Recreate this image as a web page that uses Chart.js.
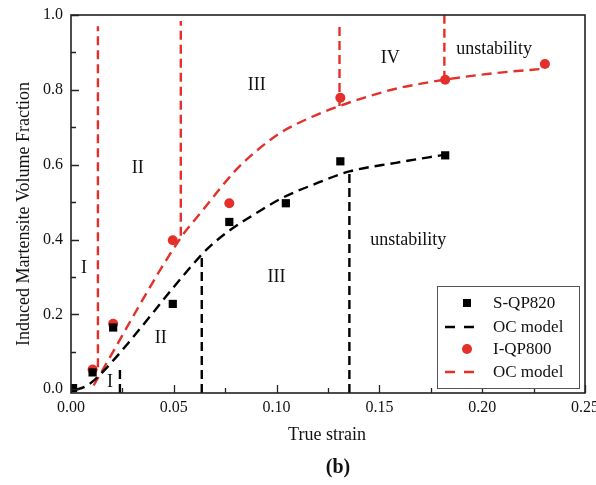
<!DOCTYPE html>
<html><head><meta charset="utf-8">
<script src="https://cdn.jsdelivr.net/npm/chart.js@4/dist/chart.umd.min.js"></script>
<style>html,body{margin:0;padding:0;background:#fff;}</style>
</head><body>
<canvas id="c" width="596" height="485"></canvas>
<script>
// ---- data ----
const sqpX = [0.001, 0.0105, 0.0205, 0.0495, 0.077, 0.1045, 0.131, 0.182];
const sqpY = [0.003, 0.045, 0.165, 0.228, 0.447, 0.497, 0.609, 0.625];
const iqpX = [0.0105, 0.0205, 0.0495, 0.077, 0.131, 0.182, 0.2305];
const iqpY = [0.053, 0.175, 0.398, 0.497, 0.779, 0.827, 0.869];
const blackModelX = [0.002, 0.006, 0.0097, 0.014, 0.0636, 0.068, 0.077, 0.092, 0.103, 0.1175, 0.1354, 0.158, 0.182];
const blackModelY = [-0.002, 0.005, 0.017, 0.038, 0.36, 0.384, 0.424, 0.477, 0.512, 0.546, 0.582, 0.605, 0.627];
const redModelX = [0.011, 0.0534, 0.0636, 0.0723, 0.0806, 0.09, 0.1015, 0.116, 0.1306, 0.145, 0.158, 0.1816, 0.2068, 0.229];
const redModelY = [0.01, 0.405, 0.475, 0.535, 0.588, 0.636, 0.684, 0.725, 0.757, 0.783, 0.803, 0.827, 0.845, 0.856];
const redBoundX = [0.0131, 0.0534, 0.1306, 0.1816];
const redBoundLow = [0.059, 0.41, 0.757, 0.827];
const redBoundHigh = [0.97, 0.984, 0.976, 1.0];
const blackBoundX = [0.0238, 0.0636, 0.1354];
const blackBoundLow = [-0.01, -0.01, -0.01];
const blackBoundHigh = [0.065, 0.36, 0.58];
const regionText = ['I', 'II', 'III', 'IV', 'unstability', 'I', 'II', 'III', 'unstability'];
const regionX = [0.0063, 0.0325, 0.0903, 0.1553, 0.2058, 0.019, 0.0437, 0.100, 0.164];
const regionY = [0.323, 0.59, 0.811, 0.885, 0.909, 0.019, 0.136, 0.30, 0.397];
const xTicks = [0, 0.05, 0.10, 0.15, 0.20, 0.25];
const yTicks = [0, 0.2, 0.4, 0.6, 0.8, 1.0];
const xMinor = [0.025, 0.075, 0.125, 0.175, 0.225];
const yMinor = [0.1, 0.3, 0.5, 0.7, 0.9];
const legendNames = ['S-QP820', 'OC model', 'I-QP800', 'OC model'];

const RED = '#e3302a';
const BLACK = '#000000';
const SERIF = '"Liberation Serif", "Times New Roman", serif';

const zip = (xs, ys) => xs.map((x, i) => ({x, y: ys[i]}));
const datasets = [
  {label: 'S-QP820', data: zip(sqpX, sqpY), showLine: false, pointStyle: 'rect', pointRadius: 5.8,
   backgroundColor: BLACK, borderColor: BLACK, borderWidth: 0, order: 0},
  {label: 'OC model', data: zip(blackModelX, blackModelY), showLine: true, pointRadius: 0, borderColor: BLACK,
   borderWidth: 2.4, borderDash: [10, 6], cubicInterpolationMode: 'monotone', order: 2},
  {label: 'I-QP800', data: zip(iqpX, iqpY), showLine: false, pointStyle: 'circle', pointRadius: 5,
   backgroundColor: RED, borderColor: RED, borderWidth: 0, order: 0},
  {label: 'OC model', data: zip(redModelX, redModelY), showLine: true, pointRadius: 0, borderColor: RED,
   borderWidth: 2.4, borderDash: [10, 6], cubicInterpolationMode: 'monotone', order: 2},
];
redBoundX.forEach((x, i) => datasets.push({data: [{x, y: redBoundLow[i]}, {x, y: redBoundHigh[i]}], showLine: true,
  pointRadius: 0, borderColor: RED, borderWidth: 2.4, borderDash: [9, 5], order: 3}));
blackBoundX.forEach((x, i) => datasets.push({data: [{x, y: blackBoundLow[i]}, {x, y: blackBoundHigh[i]}], showLine: true,
  pointRadius: 0, borderColor: BLACK, borderWidth: 2.4, borderDash: [9, 5], order: 3}));

const decor = {
  id: 'decor',
  afterDatasetsDraw(chart) {
    const {ctx, chartArea: a, scales: {x, y}} = chart;
    ctx.save();
    // region labels
    ctx.fillStyle = '#111';
    ctx.font = '18px ' + SERIF;
    ctx.textAlign = 'center';
    ctx.textBaseline = 'middle';
    regionText.forEach((t, i) => ctx.fillText(t, x.getPixelForValue(regionX[i]), y.getPixelForValue(regionY[i])));
    // frame
    ctx.strokeStyle = '#222';
    ctx.lineWidth = 1.6;
    ctx.strokeRect(a.left, a.top, a.right - a.left, a.bottom - a.top);
    // inward ticks
    ctx.lineWidth = 1.3;
    ctx.beginPath();
    xTicks.forEach(v => { const p = Math.round(x.getPixelForValue(v)) + 0.5; ctx.moveTo(p, a.bottom); ctx.lineTo(p, a.bottom - 8); });
    xMinor.forEach(v => { const p = Math.round(x.getPixelForValue(v)) + 0.5; ctx.moveTo(p, a.bottom); ctx.lineTo(p, a.bottom - 5); });
    yTicks.forEach(v => { const p = Math.round(y.getPixelForValue(v)) + 0.5; ctx.moveTo(a.left, p); ctx.lineTo(a.left + 8, p); });
    yMinor.forEach(v => { const p = Math.round(y.getPixelForValue(v)) + 0.5; ctx.moveTo(a.left, p); ctx.lineTo(a.left + 5, p); });
    ctx.stroke();
    // legend
    const L = 437, T = 286, R = 579, B = 388;
    ctx.fillStyle = '#fff';
    ctx.fillRect(L, T, R - L, B - T);
    ctx.strokeStyle = '#555';
    ctx.lineWidth = 1;
    ctx.strokeRect(L + 0.5, T + 0.5, R - L, B - T);
    const rows = [303, 327, 349, 372];
    ctx.font = '17px ' + SERIF;
    ctx.textAlign = 'left';
    ctx.textBaseline = 'middle';
    legendNames.forEach((name, i) => {
      const cy = rows[i];
      const col = i < 2 ? BLACK : RED;
      if (i === 0) { ctx.fillStyle = BLACK; ctx.fillRect(463, cy - 4, 8, 8); }
      else if (i === 2) { ctx.fillStyle = RED; ctx.beginPath(); ctx.arc(467, cy, 5, 0, Math.PI * 2); ctx.fill(); }
      else {
        ctx.strokeStyle = col; ctx.lineWidth = 2.4; ctx.setLineDash([10, 9]);
        ctx.beginPath(); ctx.moveTo(445, cy); ctx.lineTo(476, cy); ctx.stroke(); ctx.setLineDash([]);
      }
      ctx.fillStyle = '#111';
      ctx.fillText(name, 493, cy + 1);
    });
    // axis titles
    ctx.fillStyle = '#111';
    ctx.textAlign = 'center';
    ctx.font = '18px ' + SERIF;
    ctx.fillText('True strain', 327, 435);
    ctx.font = 'bold 20px ' + SERIF;
    ctx.fillText('(b)', 338, 468);
    ctx.translate(24, 214);
    ctx.rotate(-Math.PI / 2);
    ctx.font = '18px ' + SERIF;
    ctx.fillText('Induced Martensite Volume Fraction', 0, 0);
    ctx.restore();
  }
};

new Chart(document.getElementById('c'), {
  type: 'scatter',
  data: {datasets},
  options: {
    responsive: false, animation: false, devicePixelRatio: 1,
    layout: {padding: {left: 0, top: 15, right: 11, bottom: 0}},
    plugins: {legend: {display: false}, tooltip: {enabled: false}},
    scales: {
      x: {
        type: 'linear', min: 0, max: 0.25,
        afterBuildTicks: s => { s.ticks = xTicks.map(v => ({value: v})); },
        afterFit: s => { s.height = 92; s.paddingLeft = 0; s.paddingRight = 0; },
        ticks: {callback: v => Number(v).toFixed(2), font: {family: SERIF, size: 16}, color: '#111', padding: 5, maxRotation: 0, autoSkip: false},
        grid: {display: false, drawTicks: false}, border: {display: false}
      },
      y: {
        type: 'linear', min: -0.01, max: 1.0,
        afterBuildTicks: s => { s.ticks = yTicks.map(v => ({value: v})); },
        afterFit: s => { s.width = 71; s.paddingTop = 0; s.paddingBottom = 0; },
        ticks: {callback: v => Number(v).toFixed(1), font: {family: SERIF, size: 16}, color: '#111', padding: 8, autoSkip: false},
        grid: {display: false, drawTicks: false}, border: {display: false}
      }
    }
  },
  plugins: [decor]
});
</script>
</body></html>
